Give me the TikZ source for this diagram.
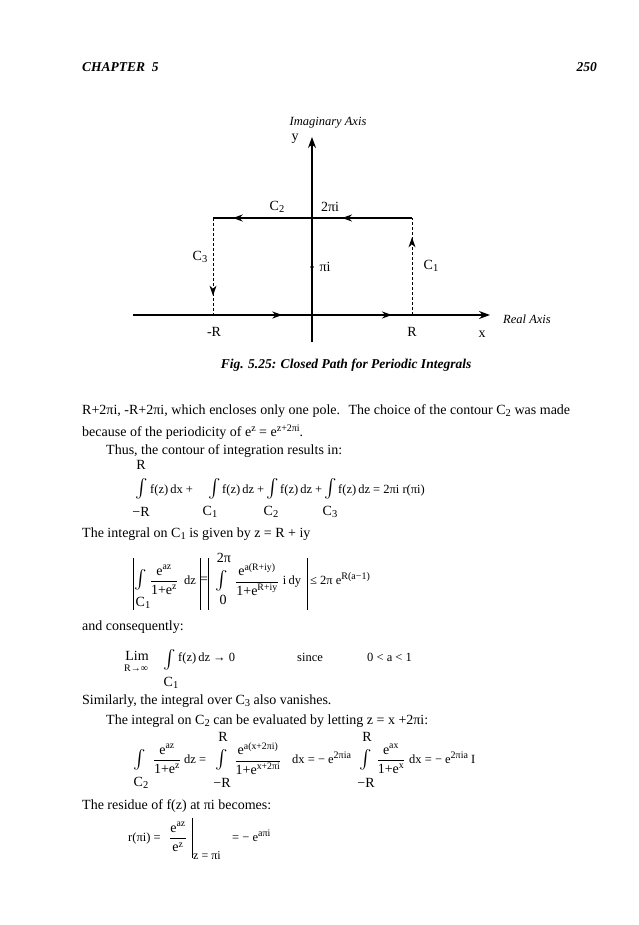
\documentclass[tikz,border=0pt]{standalone}
\usepackage{fontspec}
\usepackage{amsmath}
\setmainfont{Liberation Serif}
\usetikzlibrary{arrows.meta,decorations.markings}
\newcommand{\tx}[1]{\text{#1}}
\newcommand{\sbx}[1]{\raisebox{-0.35ex}{\fontsize{10.5}{10}\selectfont #1}}
\newcommand{\spx}[1]{\raisebox{0.7ex}{\fontsize{10}{10}\selectfont #1}}
\newcommand{\bint}{\raisebox{-0.15ex}{\resizebox{!}{15pt}{$\int$}}}
\begin{document}
\begin{tikzpicture}[x=1pt,y=-1pt,
  t/.style={anchor=base west,inner sep=0pt,font=\fontsize{14}{15}\selectfont},
  c/.style={inner sep=0pt,font=\fontsize{14}{15}\selectfont},
  eq/.style={anchor=base west,inner sep=0pt,font=\fontsize{12.5}{15}\selectfont},
  sm/.style={inner sep=0pt,font=\fontsize{10}{10}\selectfont},
  ax/.style={line width=1.2pt},
  tip/.style={-{Stealth[length=11pt,width=8pt]}},
  mid/.style={postaction={decorate},decoration={markings,mark=at position #1 with {\arrow{Stealth[length=10pt,width=7pt]}}}},
  bar/.style={line width=0.9pt}]
\useasboundingbox (0,0) rectangle (638,925);
% header
\node[t,font=\fontsize{13.5}{15}\selectfont\bfseries\itshape] (hd) at (82,72) {CHAPTER\ \ 5};
\node[anchor=base east,inner sep=0pt,font=\fontsize{13.5}{15}\selectfont\bfseries\itshape] (pg) at (597,72) {250};
% diagram
\coordinate (xl) at (133,315); \coordinate (xr) at (490,315);
\coordinate (yb) at (312,342); \coordinate (yt) at (312,137);
\coordinate (mR) at (213,315); \coordinate (pR) at (412,315);
\coordinate (mRt) at (213,218); \coordinate (pRt) at (412,218);
\coordinate (o2) at (312,218);
\draw[ax,tip] (xl) -- (xr);
\draw[ax,tip] (yb) -- (yt);
\draw[ax,mid=0.7] (mR) -- (312,315);
\draw[ax,mid=0.8] (312,315) -- (pR);
\draw[ax,mid=0.7] (pRt) -- (o2);
\draw[ax,mid=0.8] (o2) -- (mRt);
\draw[line width=0.9pt,dash pattern=on 3pt off 2pt,mid=0.8] (pR) -- (pRt);
\draw[line width=0.9pt,dash pattern=on 3pt off 2pt,mid=0.8] (mRt) -- (mR);
\fill (o2) circle (1.8pt);
\fill (312,267) circle (1.8pt);
\node[c,font=\fontsize{12.5}{14}\selectfont\itshape] (ia) at (328,123) {Imaginary Axis};
\node[c] (ly) at (295,139) {y};
\node[c] (lc2) at (277,207) {C\sbx{2}};
\node[c] (l2p) at (330,207) {2πi};
\node[c] (lc3) at (200,257) {C\sbx{3}};
\node[c] (lpi) at (325,267) {πi};
\node[c] (lc1) at (431,266) {C\sbx{1}};
\node[c] (lmr) at (214,332) {-R};
\node[c] (lr) at (412,332) {R};
\node[c] (lx) at (482,334) {x};
\node[c,font=\fontsize{12.5}{14}\selectfont\itshape] (ra) at (527,319) {Real Axis};
\node[c,font=\fontsize{13.5}{15}\selectfont\bfseries\itshape] (cap) at (346,365) {Fig. 5.25: Closed Path for Periodic Integrals};
% text
\node[t] (l1) at (82,414) {\hbox to 488pt{\spaceskip=3.5pt plus 20pt\relax R+2πi, -R+2πi, which encloses only one pole. \ The choice of the contour C\sbx{2} was made}};
\node[t] (l2) at (82,436) {because of the periodicity of e\spx{z} = e\spx{z+2πi}.};
\node[t] (l3) at (106,454) {Thus, the contour of integration results in:};
% eq 1
\node[eq] (e1) at (135,493) {\bint};
\node[eq] (e1p) at (150,493) {f(z)\,dx +};
\node[eq] (e1q) at (208,493) {\bint};
\node[eq] (e1r) at (222,493) {f(z)\,dz +};
\node[eq] (e1s) at (266,493) {\bint};
\node[eq] (e1t) at (280,493) {f(z)\,dz +};
\node[eq] (e1u) at (324,493) {\bint};
\node[eq] (e1v) at (338,493) {f(z)\,dz = 2πi r(πi)};
\node[c] (e1a) at (141,465) {R};
\node[c] (e1b) at (141,512) {−R};
\node[c] (e1c) at (210,512) {C\sbx{1}};
\node[c] (e1d) at (271,512) {C\sbx{2}};
\node[c] (e1e) at (330,512) {C\sbx{3}};
\node[t] (l4) at (82,537) {The integral on C\sbx{1} is given by z = R + iy};
% eq 2
\node[c] (e2a) at (141,580) {\bint};
\node[c] (e2b) at (164,580) {$\dfrac{\tx{e}^{\tx{az}}}{\tx{1+e}^{\tx{z}}}$};
\node[c,font=\fontsize{12.5}{15}\selectfont] (e2c) at (190,580) {dz};
\node[c] (e2d) at (204,580) {=};
\node[c] (e2e) at (222,581) {\bint};
\node[c] (e2f) at (224,558) {2π};
\node[c] (e2g) at (223,600) {0};
\node[c] (e2h) at (257,580) {$\dfrac{\tx{e}^{\tx{a(R+iy)}}}{\tx{1+e}^{\tx{R+iy}}}$};
\node[c,font=\fontsize{12.5}{15}\selectfont] (e2i) at (292,582) {i\,dy};
\node[eq] (e2j) at (310,584) {≤ 2π e\spx{R(a−1)}};
\node[c] (e2k) at (143,603) {C\sbx{1}};
\draw[bar] (133,558) -- (133,610);
\draw[bar] (200,558) -- (200,610);
\draw[bar] (208,558) -- (208,610);
\draw[bar] (307,558) -- (307,610);
\node[t] (l5) at (82,630) {and consequently:};
% lim
\node[c] (lm1) at (137,656) {Lim};
\node[sm] (lm2) at (136,668) {R→∞};
\node[eq] (lm3) at (163,664) {\bint};
\node[eq] (lm3b) at (178,661) {f(z)\,dz → 0};
\node[c] (lm4) at (171,683) {C\sbx{1}};
\node[eq] (lm5) at (297,661) {since};
\node[eq] (lm6) at (367,661) {0 < a < 1};
\node[t] (l6) at (82,704) {Similarly, the integral over C\sbx{3} also vanishes.};
\node[t] (l7) at (106,724) {The integral on C\sbx{2} can be evaluated by letting z = x +2πi:};
% eq 3
\node[c] (e3a) at (140,760) {\bint};
\node[c] (e3b) at (141,783) {C\sbx{2}};
\node[c] (e3c) at (167,759) {$\dfrac{\tx{e}^{\tx{az}}}{\tx{1+e}^{\tx{z}}}$};
\node[eq] (e3d) at (184,763) {dz =};
\node[c] (e3e) at (222,760) {\bint};
\node[c] (e3f) at (223,737) {R};
\node[c] (e3g) at (222,783) {−R};
\node[c] (e3h) at (258,759) {$\dfrac{\tx{e}^{\tx{a(x+2πi)}}}{\tx{1+e}^{\tx{x+2πi}}}$};
\node[eq] (e3i) at (292,763) {dx = − e\spx{2πia}};
\node[c] (e3j) at (366,760) {\bint};
\node[c] (e3k) at (367,737) {R};
\node[c] (e3l) at (366,783) {−R};
\node[c] (e3m) at (391,759) {$\dfrac{\tx{e}^{\tx{ax}}}{\tx{1+e}^{\tx{x}}}$};
\node[eq] (e3n) at (409,763) {dx = − e\spx{2πia} I};
\node[t] (l8) at (82,809) {The residue of f(z) at πi becomes:};
% residue
\node[eq] (r1) at (128,841) {r(πi) =};
\node[c] (r2) at (178,837) {$\dfrac{\tx{e}^{\tx{az}}}{\tx{e}^{\tx{z}}}$};
\draw[bar] (192,818) -- (192,858);
\node[anchor=west,inner sep=0pt,font=\fontsize{12}{12}\selectfont] (r3) at (193,856) {z = πi};
\node[eq] (r4) at (232,841) {= − e\spx{aπi}};
\end{tikzpicture}
\end{document}
